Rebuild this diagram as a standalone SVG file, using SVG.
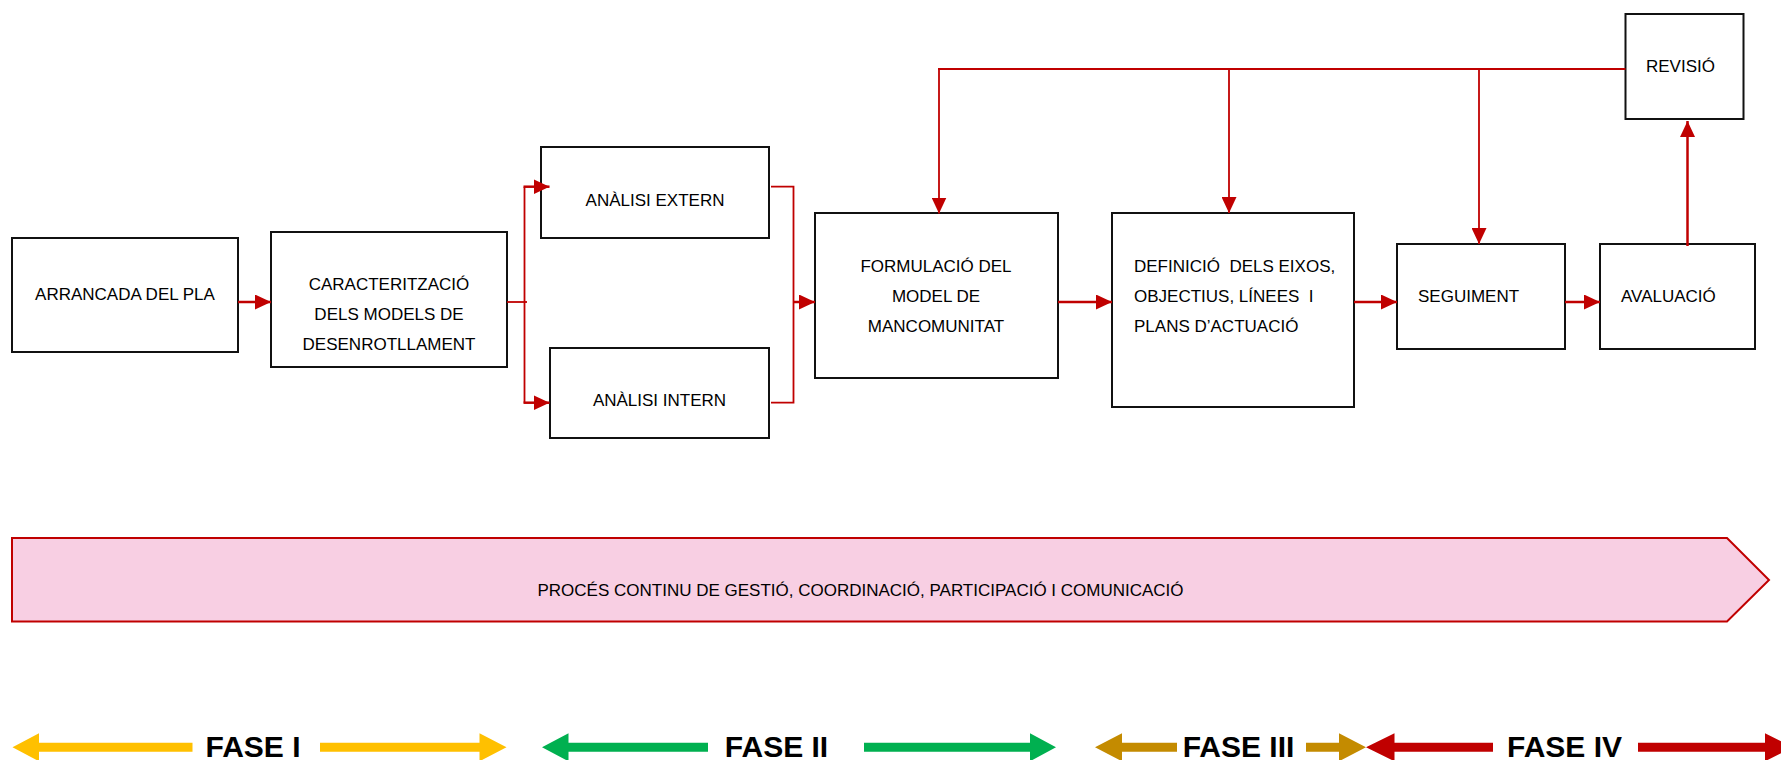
<svg xmlns="http://www.w3.org/2000/svg" width="1781" height="760" viewBox="0 0 1781 760">
  <style>
    .box { fill: #ffffff; stroke: #111111; stroke-width: 2; }
    .lbl { font-family: "Liberation Sans", Arial, sans-serif; font-size: 17px; fill: #000000; }
    .mid { text-anchor: middle; }
    .pre { white-space: pre; }
    .flow { fill: none; stroke: #C00000; stroke-width: 2.5; }
    .thin { fill: none; stroke: #C00000; stroke-width: 1.8; }
    .fase { font-family: "Liberation Sans", Arial, sans-serif; font-size: 30px; font-weight: bold; fill: #000000; text-anchor: middle; }
  </style>
  <defs>
    <marker id="head" markerUnits="userSpaceOnUse" markerWidth="16" markerHeight="15" refX="16" refY="7.5" orient="auto">
      <path d="M0,0 L16,7.5 L0,15 Z" fill="#C00000"/>
    </marker>
  </defs>

  <rect width="1781" height="760" fill="#ffffff"/>

  <!-- process boxes -->
  <g id="arrancada">
    <rect class="box" x="12" y="238" width="226" height="114"/>
    <text class="lbl mid" x="125" y="300">ARRANCADA DEL PLA</text>
  </g>
  <g id="caracteritzacio">
    <rect class="box" x="271" y="232" width="236" height="135"/>
    <text class="lbl mid" x="389" y="290">CARACTERITZACIÓ</text>
    <text class="lbl mid" x="389" y="320">DELS MODELS DE</text>
    <text class="lbl mid" x="389" y="350">DESENROTLLAMENT</text>
  </g>
  <g id="analisi-extern">
    <rect class="box" x="541" y="147" width="228" height="91"/>
    <text class="lbl mid" x="655" y="206">ANÀLISI EXTERN</text>
  </g>
  <g id="analisi-intern">
    <rect class="box" x="550" y="348" width="219" height="90"/>
    <text class="lbl mid" x="659.5" y="406">ANÀLISI INTERN</text>
  </g>
  <g id="formulacio">
    <rect class="box" x="815" y="213" width="243" height="165"/>
    <text class="lbl mid" x="936" y="272">FORMULACIÓ DEL</text>
    <text class="lbl mid" x="936" y="302">MODEL DE</text>
    <text class="lbl mid" x="936" y="332">MANCOMUNITAT</text>
  </g>
  <g id="definicio">
    <rect class="box" x="1112" y="213" width="242" height="194"/>
    <text class="lbl pre" x="1134" y="272">DEFINICIÓ  DELS EIXOS,</text>
    <text class="lbl pre" x="1134" y="302">OBJECTIUS, LÍNEES  I</text>
    <text class="lbl pre" x="1134" y="332">PLANS D’ACTUACIÓ</text>
  </g>
  <g id="seguiment">
    <rect class="box" x="1397" y="244" width="168" height="105"/>
    <text class="lbl" x="1418" y="302">SEGUIMENT</text>
  </g>
  <g id="avaluacio">
    <rect class="box" x="1600" y="244" width="155" height="105"/>
    <text class="lbl" x="1621" y="302">AVALUACIÓ</text>
  </g>
  <g id="revisio">
    <rect class="box" x="1625.5" y="14" width="118" height="105"/>
    <text class="lbl" x="1646" y="72">REVISIÓ</text>
  </g>

  <!-- connectors -->
  <g id="connectors">
    <line class="flow" x1="238" y1="302" x2="271" y2="302" marker-end="url(#head)"/>
    <!-- split towards both analyses -->
    <polyline class="thin" points="507,302 527,302"/>
    <line class="thin" x1="524.5" y1="186.7" x2="524.5" y2="402.7"/>
    <line class="flow" x1="523.5" y1="186.7" x2="549.5" y2="186.7" marker-end="url(#head)"/>
    <line class="flow" x1="523.5" y1="402.7" x2="549.5" y2="402.7" marker-end="url(#head)"/>
    <!-- join into the formulation -->
    <polyline class="thin" points="771,186.7 793.5,186.7 793.5,402.7 771,402.7"/>
    <line class="flow" x1="793" y1="302" x2="815" y2="302" marker-end="url(#head)"/>
    <line class="flow" x1="1058" y1="302" x2="1112" y2="302" marker-end="url(#head)"/>
    <line class="flow" x1="1354" y1="302" x2="1397" y2="302" marker-end="url(#head)"/>
    <line class="flow" x1="1565" y1="302" x2="1600" y2="302" marker-end="url(#head)"/>
    <!-- review loop -->
    <line class="flow" x1="1687.5" y1="246" x2="1687.5" y2="121" marker-end="url(#head)"/>
    <line class="thin" x1="938" y1="69" x2="1625.5" y2="69"/>
    <line class="thin" x1="939" y1="68" x2="939" y2="213.5" marker-end="url(#head)"/>
    <line class="thin" x1="1229" y1="68" x2="1229" y2="213" marker-end="url(#head)"/>
    <line class="thin" x1="1479" y1="68" x2="1479" y2="244" marker-end="url(#head)"/>
  </g>

  <!-- continuous management band -->
  <g id="banner">
    <polygon points="12,538 1727,538 1769,580 1727,621.5 12,621.5" fill="#F8CFE3" stroke="#C00000" stroke-width="2"/>
    <text class="lbl" x="537.5" y="596">PROCÉS CONTINU DE GESTIÓ, COORDINACIÓ, PARTICIPACIÓ I COMUNICACIÓ</text>
  </g>

  <!-- phase ranges -->
  <g id="fase-1">
    <polygon points="12.5,747.3 39,733.3 39,742.8 192.5,742.8 192.5,751.8 39,751.8 39,761.3" fill="#FFC000"/>
    <polygon points="506.5,747.3 479.5,733.3 479.5,742.8 320,742.8 320,751.8 479.5,751.8 479.5,761.3" fill="#FFC000"/>
    <text class="fase" x="253" y="757">FASE I</text>
  </g>
  <g id="fase-2">
    <polygon points="542,747.3 568.5,733.3 568.5,742.8 708,742.8 708,751.8 568.5,751.8 568.5,761.3" fill="#00B050"/>
    <polygon points="1056,747.3 1030,733.3 1030,742.8 864,742.8 864,751.8 1030,751.8 1030,761.3" fill="#00B050"/>
    <text class="fase" x="776.5" y="757">FASE II</text>
  </g>
  <g id="fase-3">
    <polygon points="1095,747.3 1122,733.3 1122,742.8 1177,742.8 1177,751.8 1122,751.8 1122,761.3" fill="#C48B00"/>
    <polygon points="1366,747.3 1339,733.3 1339,742.8 1306,742.8 1306,751.8 1339,751.8 1339,761.3" fill="#C48B00"/>
    <text class="fase" x="1238.5" y="757">FASE III</text>
  </g>
  <g id="fase-4">
    <polygon points="1366,747.3 1394.5,733.3 1394.5,742.8 1493,742.8 1493,751.8 1394.5,751.8 1394.5,761.3" fill="#C00000"/>
    <polygon points="1793,747.3 1765,733.3 1765,742.8 1638,742.8 1638,751.8 1765,751.8 1765,761.3" fill="#C00000"/>
    <text class="fase" x="1564.5" y="757">FASE IV</text>
  </g>
</svg>
